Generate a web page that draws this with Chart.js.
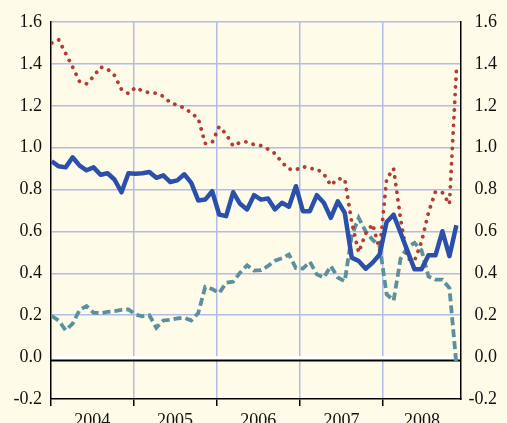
<!DOCTYPE html>
<html>
<head>
  <title>Three series, 2004-2008</title>
  <script src="https://cdn.jsdelivr.net/npm/chart.js"></script>
  <style>
    body { margin: 0; background: #fefce9; }
  </style>
</head>
<body>
  <canvas id="myChart" width="507" height="423"></canvas>
  <script>
    // monthly values, Jan 2004 .. Nov 2008
    const years = ['2004', '2005', '2006', '2007', '2008'];

    const solidSeries = [
      0.935, 0.911, 0.906, 0.954, 0.914, 0.892, 0.906, 0.871, 0.878, 0.848, 0.787, 0.878,
      0.876, 0.878, 0.884, 0.856, 0.868, 0.836, 0.844, 0.873, 0.832, 0.748, 0.752, 0.792,
      0.681, 0.673, 0.787, 0.732, 0.705, 0.773, 0.752, 0.757, 0.705, 0.737, 0.718, 0.816,
      0.697, 0.697, 0.773, 0.737, 0.665, 0.744, 0.689, 0.475, 0.459, 0.422, 0.451, 0.490,
      0.645, 0.680, 0.594, 0.506, 0.419, 0.419, 0.486, 0.486, 0.601, 0.482, 0.629
    ];

    const dottedSeries = [
      1.500, 1.515, 1.450, 1.385, 1.315, 1.305, 1.340, 1.385, 1.375, 1.345, 1.278, 1.258,
      1.287, 1.271, 1.262, 1.260, 1.245, 1.215, 1.203, 1.190, 1.165, 1.140, 1.020, 1.025,
      1.100, 1.065, 1.008, 1.025, 1.028, 1.015, 1.010, 0.993, 0.972, 0.930, 0.898, 0.894,
      0.910, 0.900, 0.898, 0.875, 0.820, 0.852, 0.850, 0.645, 0.500, 0.590, 0.635, 0.510,
      0.850, 0.900, 0.660, 0.470, 0.460, 0.550, 0.690, 0.790, 0.785, 0.730, 1.370
    ];

    const dashedSeries = [
      0.196, 0.175, 0.128, 0.160, 0.225, 0.244, 0.212, 0.210, 0.216, 0.220, 0.226, 0.228,
      0.203, 0.195, 0.200, 0.140, 0.175, 0.178, 0.185, 0.188, 0.175, 0.210, 0.335, 0.325,
      0.305, 0.355, 0.360, 0.403, 0.438, 0.413, 0.415, 0.435, 0.460, 0.472, 0.490, 0.425,
      0.423, 0.455, 0.395, 0.380, 0.435, 0.380, 0.362, 0.580, 0.665, 0.600, 0.560, 0.530,
      0.300, 0.270, 0.470, 0.525, 0.545, 0.510, 0.385, 0.370, 0.370, 0.330, -0.035
    ];

    // x axis in month-index units; year boundaries and label centres
    const xMin = -0.1, xMax = 58.66;
    const yearEdges = [xMin, 11.69, 23.64, 35.57, 47.5];
    const yearCentres = yearEdges.map((e, i) => (e + (yearEdges[i + 1] !== undefined ? yearEdges[i + 1] : xMax)) / 2);

    const xTicks = [];
    const xTickLabels = [];
    yearEdges.forEach((e, i) => {
      xTicks.push(e); xTickLabels.push('');
      xTicks.push(yearCentres[i]); xTickLabels.push(years[i]);
    });

    const toPoints = arr => arr.map((v, i) => ({ x: i, y: v }));

    const bgColor = '#fefce9';
    const gridColor = '#b3bce8';
    const font = { family: 'Liberation Serif', size: 18 };

    const background = {
      id: 'background',
      beforeDraw(chart) {
        const ctx = chart.ctx;
        ctx.save();
        ctx.fillStyle = bgColor;
        ctx.fillRect(0, 0, chart.width, chart.height);
        ctx.restore();
      }
    };

    const zeroLine = {
      id: 'zeroLine',
      beforeDatasetsDraw(chart) {
        const { ctx, chartArea, scales } = chart;
        const y0 = scales.y.getPixelForValue(0);
        ctx.save();
        ctx.fillStyle = '#ffffff';
        ctx.fillRect(chartArea.left + 1, y0 - 1, chartArea.right - chartArea.left - 2, 3.5);
        ctx.strokeStyle = '#000000';
        ctx.lineWidth = 2;
        ctx.beginPath();
        ctx.moveTo(chartArea.left, y0 + 3.3);
        ctx.lineTo(chartArea.right, y0 + 3.3);
        ctx.stroke();
        ctx.restore();
      }
    };

    var ctx = document.getElementById('myChart').getContext('2d');
    var myChart = new Chart(ctx, {
      type: 'line',
      data: {
        datasets: [
          {
            data: toPoints(solidSeries),
            borderColor: '#2b50ab',
            borderWidth: 4.5,
            borderJoinStyle: 'round',
            pointRadius: 0
          },
          {
            data: toPoints(dottedSeries),
            borderColor: '#b33c33',
            borderWidth: 3.8,
            borderDash: [0.1, 7.6],
            borderCapStyle: 'round',
            pointRadius: 0
          },
          {
            data: toPoints(dashedSeries),
            borderColor: '#5b90a0',
            borderWidth: 3.8,
            borderDash: [8, 4],
            pointRadius: 0
          }
        ]
      },
      options: {
        responsive: false,
        animation: false,
        layout: { padding: { top: 22, right: 10, left: 0, bottom: 0 } },
        plugins: {
          legend: { display: false },
          tooltip: { enabled: false }
        },
        scales: {
          x: {
            type: 'linear',
            min: xMin,
            max: xMax,
            afterBuildTicks: scale => { scale.ticks = xTicks.map(v => ({ value: v })); },
            afterFit: scale => { scale.height = 24; },
            ticks: {
              autoSkip: false,
              maxRotation: 0,
              padding: 4,
              color: '#111',
              font: font,
              callback: (value, index) => xTickLabels[index]
            },
            grid: {
              color: c => (c.index > 0 && c.index % 2 === 0) ? gridColor : 'rgba(0,0,0,0)',
              tickColor: c => c.index % 2 === 0 ? '#000' : 'rgba(0,0,0,0)',
              lineWidth: 1.5,
              tickLength: 7
            },
            border: { color: '#000', width: 1.5 }
          },
          y: {
            position: 'left',
            min: -0.2,
            max: 1.6,
            afterFit: scale => { scale.width = 51; },
            ticks: {
              stepSize: 0.2,
              padding: 9,
              color: '#111',
              font: font,
              callback: v => v.toFixed(1)
            },
            grid: {
              drawTicks: false,
              lineWidth: 1.5,
              color: c => {
                const v = Math.round(c.tick.value * 10) / 10;
                return (v === 0 || v === -0.2) ? 'rgba(0,0,0,0)' : gridColor;
              }
            },
            border: { color: '#000', width: 1.5 }
          },
          y2: {
            position: 'right',
            min: -0.2,
            max: 1.6,
            afterFit: scale => { scale.width = 36; },
            ticks: {
              stepSize: 0.2,
              padding: 8,
              crossAlign: 'far',
              color: '#111',
              font: font,
              callback: v => v.toFixed(1)
            },
            grid: { drawTicks: false, color: 'rgba(0,0,0,0)' },
            border: { color: '#000', width: 1.5 }
          }
        }
      },
      plugins: [background, zeroLine]
    });
  </script>
</body>
</html>
